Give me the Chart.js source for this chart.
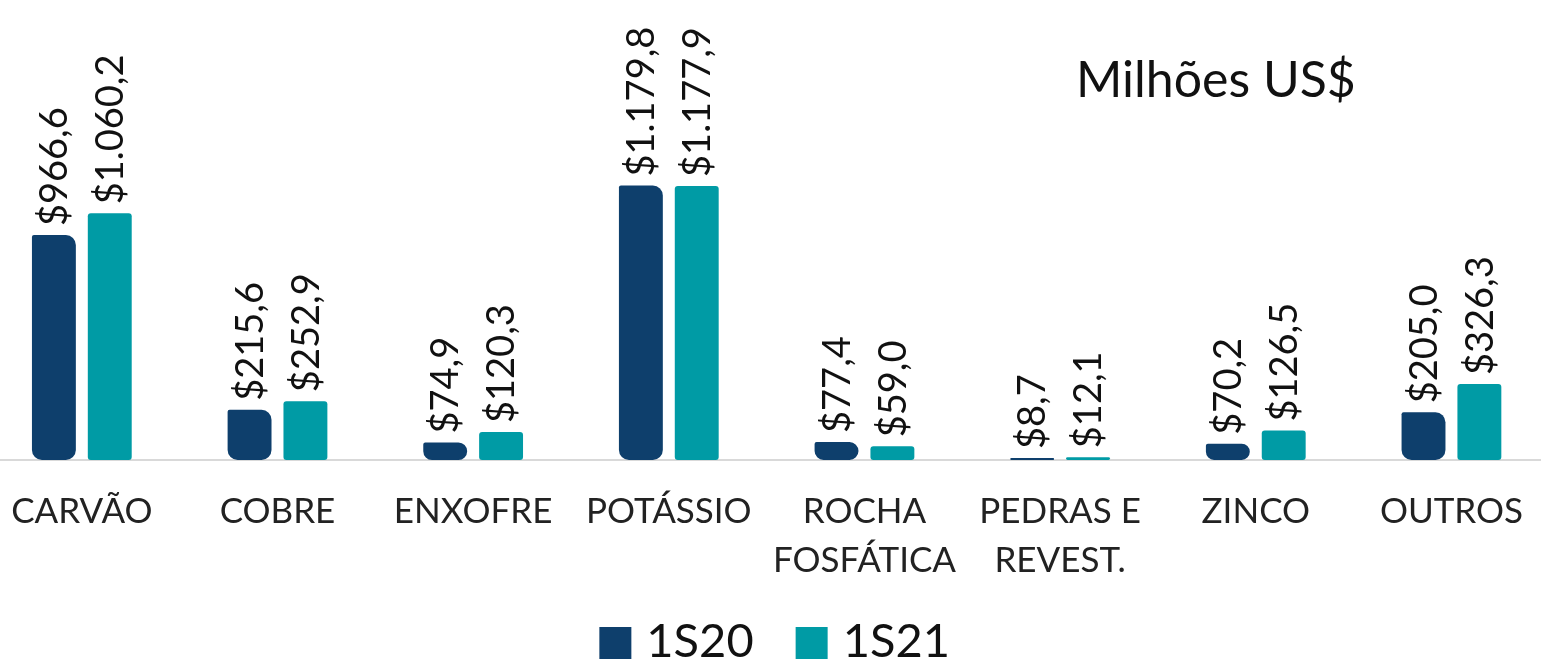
<!DOCTYPE html>
<html>
<head>
<meta charset="utf-8">
<script src="https://cdn.jsdelivr.net/npm/chart.js@4/dist/chart.umd.min.js"></script>
<style>
  html, body { margin: 0; padding: 0; background: #fff; overflow: hidden; }
  #wrap { position: absolute; left: -16px; top: 0; width: 1566px; height: 661px; }
</style>
</head>
<body>
<div id="wrap"><canvas id="chart"></canvas></div>
<script>
const categories = ["CARVÃO", "COBRE", "ENXOFRE", "POTÁSSIO", ["ROCHA", "FOSFÁTICA"], ["PEDRAS E", "REVEST."], "ZINCO", "OUTROS"];
const s1S20 = [966.6, 215.6, 74.9, 1179.8, 77.4, 8.7, 70.2, 205.0];
const s1S21 = [1060.2, 252.9, 120.3, 1177.9, 59.0, 12.1, 126.5, 326.3];
const seriesNames = ["1S20", "1S21"];
const unitLabel = "Milhões US$";

const FONT = "Lato, 'Open Sans', sans-serif";

function fmt(v) {
  // formato brasileiro: $1.179,8
  const parts = v.toFixed(1).split(".");
  parts[0] = parts[0].replace(/\B(?=(\d{3})+(?!\d))/g, ".");
  return "$" + parts[0] + "," + parts[1];
}

// rótulos verticais acima das barras
const barLabels = {
  id: "barLabels",
  afterDatasetsDraw(chart) {
    const ctx = chart.ctx;
    ctx.save();
    ctx.font = "38px " + FONT;
    ctx.fillStyle = "#111";
    ctx.textAlign = "left";
    ctx.textBaseline = "middle";
    chart.data.datasets.forEach((ds, i) => {
      chart.getDatasetMeta(i).data.forEach((bar, j) => {
        ctx.save();
        ctx.translate(bar.x + 1, bar.y - 9);
        ctx.rotate(-Math.PI / 2);
        ctx.fillText(fmt(ds.data[j]), 0, 0);
        ctx.restore();
      });
    });
    ctx.restore();
  },
};

const unitText = {
  id: "unitText",
  afterDraw(chart) {
    const ctx = chart.ctx;
    const a = chart.chartArea;
    ctx.save();
    ctx.font = "50px " + FONT;
    ctx.fillStyle = "#111";
    ctx.textAlign = "center";
    ctx.textBaseline = "alphabetic";
    ctx.fillText(unitLabel, a.left + (a.right - a.left) * 0.787, 97);
    ctx.restore();
  },
};

// legenda desenhada à mão (o espaçamento do Chart.js não bate)
const bottomLegend = {
  id: "bottomLegend",
  afterDraw(chart) {
    const ctx = chart.ctx;
    const a = chart.chartArea;
    const box = 32, gapText = 15, gapItem = 42;
    ctx.save();
    ctx.font = "47px " + FONT;
    const items = chart.data.datasets.map((ds) => ({
      text: ds.label,
      color: ds.backgroundColor,
      w: ctx.measureText(ds.label).width,
    }));
    let total = 0;
    items.forEach((it, i) => {
      total += box + gapText + it.w + (i < items.length - 1 ? gapItem : 0);
    });
    let x = (a.left + a.right) / 2 + 8 - total / 2;
    const cy = 642;
    ctx.textBaseline = "middle";
    ctx.textAlign = "left";
    items.forEach((it) => {
      ctx.fillStyle = it.color;
      ctx.fillRect(x, cy - box / 2 + 1, box, box);
      x += box + gapText;
      ctx.fillStyle = "#111";
      ctx.fillText(it.text, x, cy);
      x += it.w + gapItem;
    });
    ctx.restore();
  },
};

new Chart(document.getElementById("chart"), {
  type: "bar",
  data: {
    labels: categories,
    datasets: [
      {
        label: seriesNames[0],
        data: s1S20,
        backgroundColor: "#0e3f6c",
        borderRadius: { topLeft: 2, topRight: 10, bottomLeft: 10, bottomRight: 10 },
        borderSkipped: false,
        categoryPercentage: 0.571,
        barPercentage: 0.786,
      },
      {
        label: seriesNames[1],
        data: s1S21,
        backgroundColor: "#009ba5",
        borderRadius: 3,
        borderSkipped: false,
        categoryPercentage: 0.571,
        barPercentage: 0.786,
      },
    ],
  },
  options: {
    responsive: true,
    maintainAspectRatio: false,
    animation: false,
    layout: { padding: { top: 0, left: 0, right: 0, bottom: 49 } },
    plugins: {
      tooltip: { enabled: false },
      legend: { display: false },
    },
    scales: {
      x: {
        grid: { display: false, drawTicks: false },
        border: { display: true, color: "#d9d9d9", width: 2 },
        ticks: {
          color: "#222",
          font: { family: FONT, size: 35, lineHeight: 1.4 },
          padding: 27,
          maxRotation: 0,
          autoSkip: false,
        },
      },
      y: {
        display: false,
        min: 0,
        max: 1977,
      },
    },
  },
  plugins: [barLabels, unitText, bottomLegend],
});
</script>
</body>
</html>
